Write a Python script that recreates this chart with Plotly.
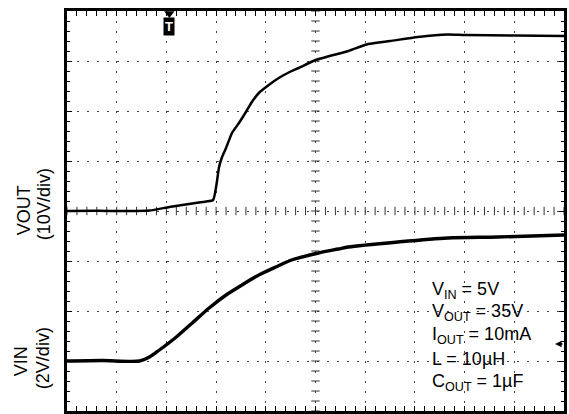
import numpy as np
import plotly.graph_objects as go

# Time axis in divisions (10 div across)
vout_t = [0.0, 0.6, 1.2, 1.66, 2.06, 2.52, 2.8, 2.94, 3.0, 3.06, 3.12, 3.2, 3.32, 3.46,
          3.6, 3.72, 3.86, 4.06, 4.26, 4.46, 4.66, 5.0, 5.66, 6.06, 6.5, 7.06, 7.66, 8.0, 9.0, 10.0]
vout_v = [0.0, 0.05, 0.0, 0.1, 0.8, 1.5, 1.9, 2.2, 4.8, 8.8, 10.8, 12.6, 15.6, 17.6,
          19.8, 21.8, 23.6, 25.2, 26.6, 27.7, 28.6, 30.2, 32.0, 33.4, 34.0, 34.8, 35.3, 35.2, 35.1, 35.0]

vin_t = [0.0, 0.7, 1.46, 1.66, 1.86, 2.2, 2.52, 2.86, 3.2, 3.52, 3.86, 4.2, 4.52, 5.06,
         5.46, 5.66, 6.66, 7.66, 8.66, 10.0]
vin_v = [0.0, 0.02, 0.0, 0.16, 0.44, 0.96, 1.52, 2.12, 2.64, 3.04, 3.44, 3.76, 4.04, 4.32,
         4.48, 4.56, 4.76, 4.92, 4.96, 5.04]

annot_lines = ["V<sub>IN</sub> = 5V", "V<sub>OUT</sub> = 35V", "I<sub>OUT</sub> = 10mA",
               "L = 10µH", "C<sub>OUT</sub> = 1µF"]
channel_labels = ["VOUT", "(10V/div)", "VIN", "(2V/div)"]

FONT = "Liberation Sans, Arial, sans-serif"
W, H = 569, 414
L, T, R, B = 67, 11, 2, 3
PW, PH = W - L - R, H - T - B

fig = go.Figure()

# center crosshair ticks (decorative graticule)
minor = np.arange(0, 10.001, 0.2)
fig.add_trace(go.Scatter(x=minor, y=[4] * len(minor), mode="markers", xaxis="x", yaxis="y",
                         marker=dict(symbol="line-ns", size=6, line=dict(width=1, color="#333")),
                         hoverinfo="skip", showlegend=False))
minor_y = np.arange(0, 8.001, 0.2)
fig.add_trace(go.Scatter(x=[5] * len(minor_y), y=minor_y, mode="markers", xaxis="x", yaxis="y",
                         marker=dict(symbol="line-ew", size=6, line=dict(width=1, color="#333")),
                         hoverinfo="skip", showlegend=False))

fig.add_trace(go.Scatter(x=vout_t, y=vout_v, mode="lines", yaxis="y2",
                         line=dict(color="black", width=2.5, shape="spline", smoothing=0.5),
                         showlegend=False))
fig.add_trace(go.Scatter(x=vin_t, y=vin_v, mode="lines", yaxis="y3",
                         line=dict(color="black", width=3.4, shape="spline", smoothing=0.8),
                         showlegend=False))

# ground markers and trigger markers
fig.add_trace(go.Scatter(x=[-0.1, -0.1], y=[4, 1], mode="markers", yaxis="y", cliponaxis=False,
                         marker=dict(symbol="triangle-right", size=10, color="black"),
                         hoverinfo="skip", showlegend=False))
fig.add_trace(go.Scatter(x=[2.06], y=[7.95], mode="markers", yaxis="y", cliponaxis=False,
                         marker=dict(symbol="triangle-down", size=9, color="black"),
                         hoverinfo="skip", showlegend=False))

grid = dict(showgrid=True, gridcolor="#444", gridwidth=1, griddash="2px,8px",
            showline=True, linecolor="black", linewidth=3, mirror="allticks",
            ticks="inside", ticklen=5, tickcolor="black", tickwidth=1,
            showticklabels=False, zeroline=False, fixedrange=True)

fig.update_layout(
    width=W, height=H,
    margin=dict(l=L, r=R, t=T, b=B),
    paper_bgcolor="white", plot_bgcolor="white",
    font=dict(family=FONT, color="black"),
    xaxis=dict(range=[0, 10], dtick=1, tick0=0,
               minor=dict(dtick=0.2, ticks="inside", ticklen=3, tickcolor="black", showgrid=False),
               **grid),
    yaxis=dict(range=[0, 8], dtick=1, tick0=0,
               minor=dict(dtick=0.2, ticks="inside", ticklen=3, tickcolor="black", showgrid=False),
               **grid),
    yaxis2=dict(range=[-40, 40], overlaying="y", visible=False, fixedrange=True),
    yaxis3=dict(range=[-2, 14], overlaying="y", visible=False, fixedrange=True),
)

ys = [2.42, 1.97, 1.51, 1.05, 0.58]
for txt, yy in zip(annot_lines, ys):
    fig.add_annotation(x=7.3, y=yy, xref="x", yref="y", text=txt, showarrow=False,
                       xanchor="left", yanchor="middle", font=dict(size=18, family=FONT))

# trigger badge
fig.add_annotation(x=2.06, y=7.88, xref="x", yref="y", text="<b>T</b>", showarrow=False,
                   xanchor="center", yanchor="top", bgcolor="black",
                   font=dict(size=13, color="white", family=FONT), borderpad=1)
# trigger level arrow
fig.add_annotation(x=9.82, y=1.34, xref="x", yref="y", text="", showarrow=True,
                   ax=9, ay=0, arrowhead=2, arrowsize=1, arrowwidth=1.3, arrowcolor="black")

# channel labels (positions given in pixels, converted to paper coords)
label_px = [(24, 210), (44, 204), (21, 361), (43, 358)]
for txt, (px, py) in zip(channel_labels, label_px):
    fig.add_annotation(x=(px - L) / PW, y=(H - B - py) / PH, xref="paper", yref="paper",
                       showarrow=False, text=txt, textangle=-90,
                       xanchor="center", yanchor="middle", font=dict(size=18, family=FONT))

fig.write_html("out.html", config={"displayModeBar": False},
               post_script="document.body.style.margin='0';document.body.style.overflow='hidden';")
